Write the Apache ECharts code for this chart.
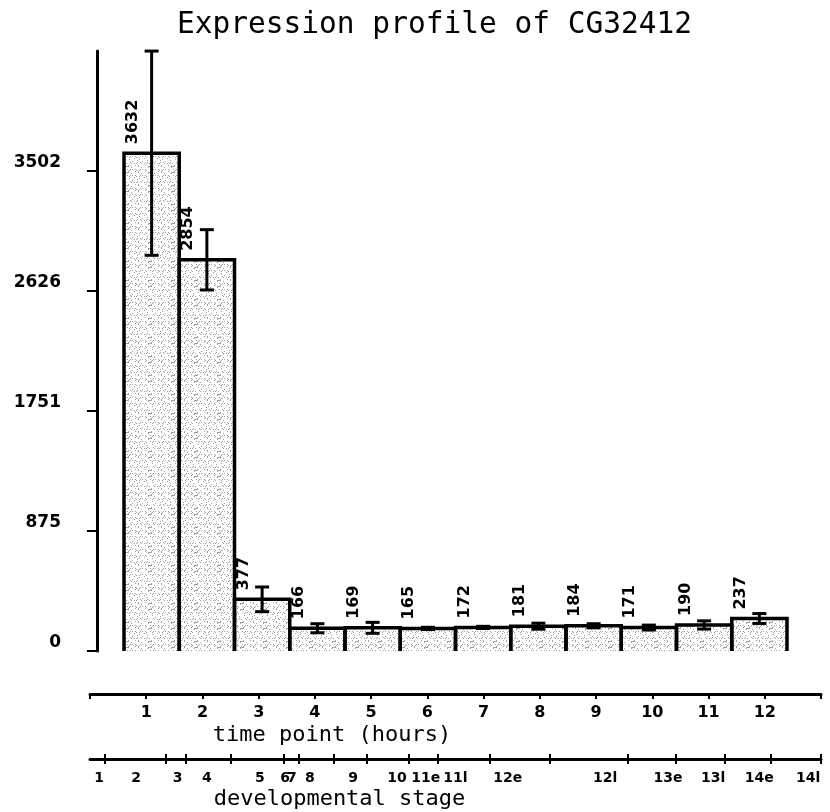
<!DOCTYPE html>
<html>
<head>
<meta charset="utf-8">
<script src="https://cdn.jsdelivr.net/npm/echarts@6/dist/echarts.min.js"></script>
<style>
  html, body { margin: 0; padding: 0; background: #fff; }
  #chart { width: 830px; height: 812px; }
</style>
</head>
<body>
<div id="chart"></div>
<script>
// data
const timePoints = ['1', '2', '3', '4', '5', '6', '7', '8', '9', '10', '11', '12']
const expression = [3632, 2854, 377, 166, 169, 165, 172, 181, 184, 171, 190, 237]
const errors = [745, 220, 90, 33, 40, 8, 8, 22, 15, 18, 30, 36]
const yTicks = [0, 875.5, 1751, 2626.5, 3502]
const yTickLabels = ['0', '875', '1751', '2626', '3502']
// developmental stage boundaries and label spots, in hours
const stageTicks = [0.27, 1.35, 1.71, 2.51, 3.45, 3.72, 4.34, 4.93, 5.67, 6.19, 7.11, 8.18, 9.57, 10.42, 11.28, 12.11, 13]
const stageNames = ['1', '2', '3', '4', '5', '6', '7', '8', '9', '10', '11e', '11l', '12e', '12l', '13e', '13l', '14e', '14l']
const stageLabelAt = [0.16, 0.82, 1.56, 2.08, 3.02, 3.47, 3.59, 3.91, 4.68, 5.46, 5.97, 6.5, 7.43, 9.16, 10.28, 11.08, 11.9, 12.77]

// speckled grey fill like the printed bars
function stipple() {
  const c = document.createElement('canvas')
  c.width = 23
  c.height = 19
  const g = c.getContext('2d')
  g.fillStyle = '#fff'
  g.fillRect(0, 0, 23, 19)
  g.fillStyle = '#a0a0a0'
  for (let i = 0; i < 23; i++) {
    for (let j = 0; j < 19; j++) {
      if ((i * i * 7 + j * j * 13 + i * j * 5 + i * 3 + j) % 13 < 2) g.fillRect(i, j, 1, 1)
    }
  }
  return c
}

const tickFont = { color: '#000', fontFamily: 'DejaVu Sans', fontWeight: 'bold' }
const nameFont = { color: '#000', fontFamily: 'DejaVu Sans Mono', fontSize: 22 }

let myChart = echarts.init(document.getElementById('chart'))
myChart.setOption({
  animation: false,
  backgroundColor: '#fff',
  title: {
    text: 'Expression profile of CG32412',
    left: 172,
    top: 5,
    textStyle: { color: '#000', fontFamily: 'DejaVu Sans Mono', fontWeight: 'normal', fontSize: 29.5 }
  },
  grid: [
    { left: 124, right: 43, top: 51, bottom: 161 },
    { left: 90, right: 9, top: 690, height: 4 },
    { left: 90, right: 9, top: 755, height: 4 }
  ],
  xAxis: [
    { type: 'category', gridIndex: 0, data: timePoints, show: false },
    {
      type: 'value', gridIndex: 1, min: 0, max: 13, interval: 1, position: 'bottom',
      axisLine: { onZero: false, lineStyle: { color: '#000', width: 3 } },
      axisTick: { length: 5, lineStyle: { color: '#000', width: 2 } },
      axisLabel: {
        customValues: timePoints.map((t, i) => i + 1),
        formatter: v => timePoints[v - 1],
        margin: 11, fontSize: 16, ...tickFont
      },
      splitLine: { show: false },
      name: 'time point (hours)', nameLocation: 'middle', nameGap: 30,
      nameTextStyle: { ...nameFont, padding: [0, 247, 0, 0] }
    },
    {
      type: 'value', gridIndex: 2, min: 0, max: 13, position: 'bottom',
      axisLine: { onZero: false, lineStyle: { color: '#000', width: 3 } },
      axisTick: { customValues: stageTicks, length: 5, lineStyle: { color: '#000', width: 2 } },
      axisLabel: {
        customValues: stageLabelAt,
        formatter: v => stageNames[stageLabelAt.indexOf(v)],
        margin: 12, fontSize: 14, ...tickFont
      },
      splitLine: { show: false },
      name: 'developmental stage', nameLocation: 'middle', nameGap: 29,
      nameTextStyle: { ...nameFont, padding: [0, 232, 0, 0] }
    },
    {
      type: 'value', gridIndex: 2, min: 0, max: 13, position: 'bottom',
      axisLine: { show: false, onZero: false },
      axisTick: { inside: true, customValues: stageTicks, length: 5, lineStyle: { color: '#000', width: 2 } },
      axisLabel: { show: false },
      splitLine: { show: false }
    }
  ],
  yAxis: [
    {
      type: 'value', gridIndex: 0, min: 0, max: 4377.5, offset: 27,
      axisLine: { show: true, lineStyle: { color: '#000', width: 3 } },
      axisTick: { show: true, customValues: yTicks, length: 10, lineStyle: { color: '#000', width: 2 } },
      axisLabel: {
        customValues: yTicks,
        formatter: v => yTickLabels[yTicks.indexOf(v)],
        margin: 36, fontSize: 17, verticalAlign: 'bottom', ...tickFont
      },
      splitLine: { show: false }
    },
    { type: 'value', gridIndex: 1, min: 0, max: 1, show: false },
    { type: 'value', gridIndex: 2, min: 0, max: 1, show: false }
  ],
  series: [
    {
      type: 'bar',
      xAxisIndex: 0,
      yAxisIndex: 0,
      data: expression,
      barWidth: '100%',
      itemStyle: { color: { image: stipple(), repeat: 'repeat' } },
      label: {
        show: true,
        position: [9, -9],
        rotate: 90,
        align: 'left',
        verticalAlign: 'middle',
        fontSize: 16,
        ...tickFont
      }
    },
    {
      // bar outline: left, top and right sides only
      type: 'custom',
      xAxisIndex: 0,
      yAxisIndex: 0,
      data: expression.map((v, i) => [i, v]),
      clip: false,
      z: 3,
      renderItem: (params, api) => {
        let top = api.coord([api.value(0), api.value(1)])
        let base = api.coord([api.value(0), 0])
        let w = api.size([1, 0])[0] / 2
        return {
          type: 'polyline',
          shape: { points: [[top[0] - w, base[1]], [top[0] - w, top[1]], [top[0] + w, top[1]], [top[0] + w, base[1]]] },
          style: { stroke: '#000', lineWidth: 3.5, fill: null }
        }
      }
    },
    {
      // error bars
      type: 'custom',
      xAxisIndex: 0,
      yAxisIndex: 0,
      data: expression.map((v, i) => [i, v - errors[i], v + errors[i]]),
      clip: false,
      z: 4,
      renderItem: (params, api) => {
        let lo = api.coord([api.value(0), api.value(1)])
        let hi = api.coord([api.value(0), api.value(2)])
        let c = 7
        let st = { stroke: '#000', lineWidth: 3 }
        return {
          type: 'group',
          children: [
            { type: 'line', shape: { x1: lo[0], y1: lo[1], x2: hi[0], y2: hi[1] }, style: st },
            { type: 'line', shape: { x1: lo[0] - c, y1: lo[1], x2: lo[0] + c, y2: lo[1] }, style: st },
            { type: 'line', shape: { x1: hi[0] - c, y1: hi[1], x2: hi[0] + c, y2: hi[1] }, style: st }
          ]
        }
      }
    }
  ]
})
</script>
</body>
</html>
